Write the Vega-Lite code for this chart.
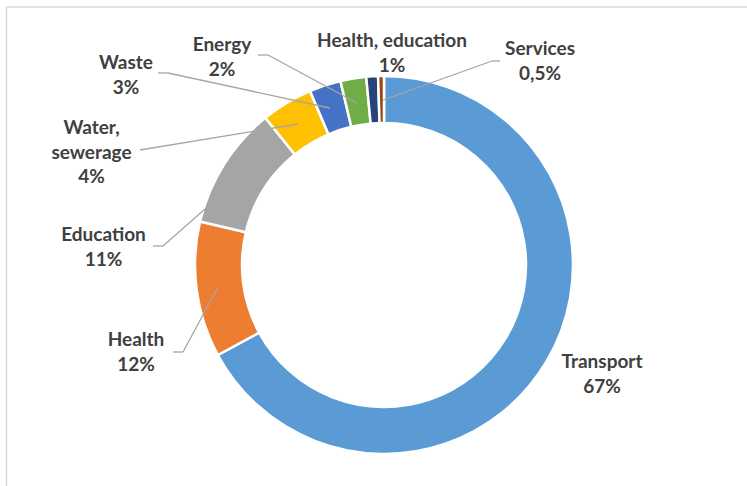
{
  "$schema": "https://vega.github.io/schema/vega-lite/v6.json",
  "width": 747,
  "height": 486,
  "padding": 0,
  "autosize": {"type": "none"},
  "background": "white",
  "view": {"stroke": null},
  "config": {
    "text": {"font": "Lato", "fontWeight": "bold", "fontSize": 19, "color": "#404040", "align": "center", "baseline": "middle", "lineBreak": "\n", "lineHeight": 24.5},
    "rule": {"color": "#a6a6a6", "strokeWidth": 1.3}
  },
  "data": {
    "values": [
      {"idx": 1, "category": "Transport", "value": 67.1, "label": "Transport\n67%"},
      {"idx": 2, "category": "Health", "value": 11.6, "label": "Health\n12%"},
      {"idx": 3, "category": "Education", "value": 10.5, "label": "Education\n11%"},
      {"idx": 4, "category": "Water, sewerage", "value": 4.4, "label": "Water,\nsewerage\n4%"},
      {"idx": 5, "category": "Waste", "value": 2.7, "label": "Waste\n3%"},
      {"idx": 6, "category": "Energy", "value": 2.2, "label": "Energy\n2%"},
      {"idx": 7, "category": "Health, education", "value": 1.0, "label": "Health, education\n1%"},
      {"idx": 8, "category": "Services", "value": 0.5, "label": "Services\n0,5%"}
    ]
  },
  "layer": [
    {
      "data": {"values": [{"frame": "top"}]},
      "mark": {"type": "rule", "color": "#d9d9d9", "strokeWidth": 1.5},
      "encoding": {
        "x": {"datum": -377.5, "type": "quantitative", "scale": {"domain": [-384, 363], "nice": false, "zero": false}, "axis": null},
        "x2": {"datum": 363},
        "y": {"datum": 258, "type": "quantitative", "scale": {"domain": [-221, 265], "nice": false, "zero": false}, "axis": null},
        "y2": {"datum": 258}
      }
    },
    {
      "data": {"values": [{"frame": "left"}]},
      "mark": {"type": "rule", "color": "#d9d9d9", "strokeWidth": 1.5},
      "encoding": {
        "x": {"datum": -377.5, "type": "quantitative", "scale": {"domain": [-384, 363], "nice": false, "zero": false}, "axis": null},
        "y": {"datum": 258, "type": "quantitative", "scale": {"domain": [-221, 265], "nice": false, "zero": false}, "axis": null},
        "y2": {"datum": -221}
      }
    },
    {
      "mark": {"type": "arc", "outerRadius": 189, "innerRadius": 142, "stroke": "white", "strokeWidth": 2.5},
      "encoding": {
        "theta": {"field": "value", "type": "quantitative", "stack": true},
        "order": {"field": "idx", "type": "quantitative"},
        "color": {
          "field": "category", "type": "nominal", "legend": null,
          "scale": {
            "domain": ["Transport", "Health", "Education", "Water, sewerage", "Waste", "Energy", "Health, education", "Services"],
            "range": ["#5b9bd5", "#ed7d31", "#a5a5a5", "#ffc000", "#4472c4", "#70ad47", "#264478", "#9e480e"]
          }
        },
        "x": {"datum": 0, "type": "quantitative", "scale": {"domain": [-384, 363], "nice": false, "zero": false}, "axis": null},
        "y": {"datum": 0, "type": "quantitative", "scale": {"domain": [-221, 265], "nice": false, "zero": false}, "axis": null}
      }
    },
    {
      "transform": [{"filter": "datum.category === 'Transport'"}],
      "mark": "text",
      "encoding": {
        "text": {"field": "label", "type": "nominal"},
        "x": {"datum": 218, "type": "quantitative", "scale": {"domain": [-384, 363], "nice": false, "zero": false}, "axis": null},
        "y": {"datum": -97, "type": "quantitative", "scale": {"domain": [-221, 265], "nice": false, "zero": false}, "axis": null}
      }
    },
    {
      "transform": [{"filter": "datum.category === 'Health'"}],
      "layer": [
        {"mark": "text", "encoding": {"text": {"field": "label", "type": "nominal"}, "x": {"datum": -248, "type": "quantitative"}, "y": {"datum": -75, "type": "quantitative"}}},
        {"mark": "rule", "encoding": {"x": {"datum": -211, "type": "quantitative"}, "x2": {"datum": -201}, "y": {"datum": -87, "type": "quantitative"}, "y2": {"datum": -87}}},
        {"mark": "rule", "encoding": {"x": {"datum": -201, "type": "quantitative"}, "x2": {"datum": -166}, "y": {"datum": -87, "type": "quantitative"}, "y2": {"datum": -22}}}
      ]
    },
    {
      "transform": [{"filter": "datum.category === 'Education'"}],
      "layer": [
        {"mark": "text", "encoding": {"text": {"field": "label", "type": "nominal"}, "x": {"datum": -280.5, "type": "quantitative"}, "y": {"datum": 30, "type": "quantitative"}}},
        {"mark": "rule", "encoding": {"x": {"datum": -231, "type": "quantitative"}, "x2": {"datum": -221}, "y": {"datum": 19, "type": "quantitative"}, "y2": {"datum": 19}}},
        {"mark": "rule", "encoding": {"x": {"datum": -221, "type": "quantitative"}, "x2": {"datum": -179}, "y": {"datum": 19, "type": "quantitative"}, "y2": {"datum": 56}}}
      ]
    },
    {
      "transform": [{"filter": "datum.category === 'Water, sewerage'"}],
      "layer": [
        {"mark": "text", "encoding": {"text": {"field": "label", "type": "nominal"}, "x": {"datum": -292.5, "type": "quantitative"}, "y": {"datum": 137, "type": "quantitative"}}},
        {"mark": "rule", "encoding": {"x": {"datum": -244, "type": "quantitative"}, "x2": {"datum": -86}, "y": {"datum": 115, "type": "quantitative"}, "y2": {"datum": 141}}}
      ]
    },
    {
      "transform": [{"filter": "datum.category === 'Waste'"}],
      "layer": [
        {"mark": "text", "encoding": {"text": {"field": "label", "type": "nominal"}, "x": {"datum": -258, "type": "quantitative"}, "y": {"datum": 202, "type": "quantitative"}}},
        {"mark": "rule", "encoding": {"x": {"datum": -226, "type": "quantitative"}, "x2": {"datum": -216}, "y": {"datum": 192, "type": "quantitative"}, "y2": {"datum": 192}}},
        {"mark": "rule", "encoding": {"x": {"datum": -216, "type": "quantitative"}, "x2": {"datum": -54}, "y": {"datum": 192, "type": "quantitative"}, "y2": {"datum": 157}}}
      ]
    },
    {
      "transform": [{"filter": "datum.category === 'Energy'"}],
      "layer": [
        {"mark": "text", "encoding": {"text": {"field": "label", "type": "nominal"}, "x": {"datum": -162, "type": "quantitative"}, "y": {"datum": 220, "type": "quantitative"}}},
        {"mark": "rule", "encoding": {"x": {"datum": -126, "type": "quantitative"}, "x2": {"datum": -116}, "y": {"datum": 210, "type": "quantitative"}, "y2": {"datum": 210}}},
        {"mark": "rule", "encoding": {"x": {"datum": -116, "type": "quantitative"}, "x2": {"datum": -27}, "y": {"datum": 210, "type": "quantitative"}, "y2": {"datum": 162}}}
      ]
    },
    {
      "transform": [{"filter": "datum.category === 'Health, education'"}],
      "mark": "text",
      "encoding": {"text": {"field": "label", "type": "nominal"}, "x": {"datum": 8, "type": "quantitative"}, "y": {"datum": 224, "type": "quantitative"}}
    },
    {
      "transform": [{"filter": "datum.category === 'Services'"}],
      "layer": [
        {"mark": "text", "encoding": {"text": {"field": "label", "type": "nominal"}, "x": {"datum": 156, "type": "quantitative"}, "y": {"datum": 216, "type": "quantitative"}}},
        {"mark": "rule", "encoding": {"x": {"datum": 116, "type": "quantitative"}, "x2": {"datum": 108}, "y": {"datum": 204, "type": "quantitative"}, "y2": {"datum": 204}}},
        {"mark": "rule", "encoding": {"x": {"datum": 108, "type": "quantitative"}, "x2": {"datum": -1}, "y": {"datum": 204, "type": "quantitative"}, "y2": {"datum": 165}}}
      ]
    }
  ]
}
